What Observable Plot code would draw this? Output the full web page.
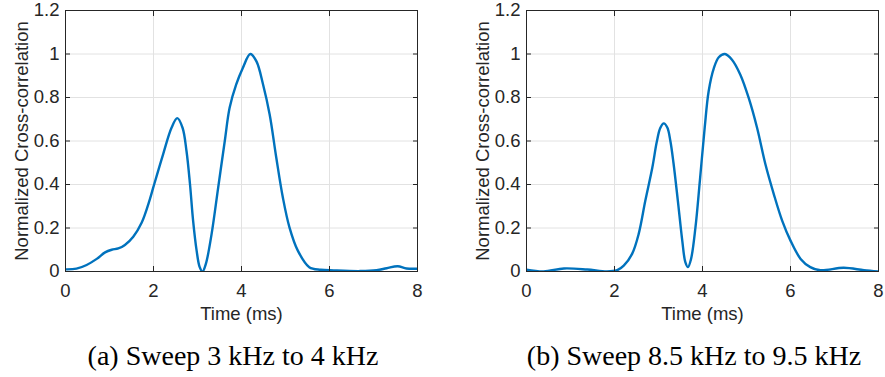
<!DOCTYPE html>
<html>
<head>
<meta charset="utf-8">
<script src="https://cdn.jsdelivr.net/npm/d3@7"></script>
<script src="https://cdn.jsdelivr.net/npm/@observablehq/plot@0.6"></script>
<style>
  html, body { margin: 0; padding: 0; background: #fff; }
  #wrap { position: relative; width: 885px; height: 377px; overflow: hidden; }
  .panel { position: absolute; top: 0; }
  .cap { position: absolute; top: 340px; width: 442px; text-align: center;
         font-family: "Liberation Serif", "Times New Roman", serif; font-size: 28px;
         line-height: 32px; color: #000; white-space: nowrap; }
</style>
</head>
<body>
<div id="wrap"></div>
<script>
// ---- data ----
const xTicks = [0, 2, 4, 6, 8];
const yTicks = [0, 0.2, 0.4, 0.6, 0.8, 1, 1.2];
const xLabel = "Time (ms)";
const yLabel = "Normalized Cross-correlation";
const captions = ["(a) Sweep 3 kHz to 4 kHz", "(b) Sweep 8.5 kHz to 9.5 kHz"];

const leftT = [0, 0.25, 0.48, 0.71, 0.9, 1.05, 1.2, 1.35, 1.54, 1.73, 1.92, 2.0, 2.22, 2.41, 2.54, 2.66, 2.75, 2.83, 2.9, 2.98, 3.05, 3.115, 3.19, 3.32, 3.47, 3.62, 3.73, 3.88, 4.03, 4.2, 4.34, 4.49, 4.64, 4.79, 4.94, 5.09, 5.28, 5.54, 5.8, 6.1, 6.7, 7.07, 7.3, 7.55, 7.75, 8];
const leftV = [0.01, 0.013, 0.03, 0.058, 0.088, 0.1, 0.106, 0.122, 0.16, 0.224, 0.334, 0.39, 0.54, 0.661, 0.705, 0.661, 0.554, 0.40, 0.234, 0.096, 0.02, 0.0, 0.035, 0.172, 0.386, 0.6, 0.753, 0.86, 0.936, 1.0, 0.966, 0.86, 0.722, 0.524, 0.34, 0.203, 0.096, 0.02, 0.008, 0.005, 0.002, 0.006, 0.015, 0.024, 0.014, 0.013];

const rightT = [0, 0.39, 0.85, 1.38, 1.83, 2.06, 2.21, 2.4, 2.55, 2.7, 2.86, 2.96, 3.04, 3.12, 3.2, 3.27, 3.34, 3.44, 3.54, 3.61, 3.67, 3.74, 3.84, 3.94, 4.05, 4.14, 4.26, 4.37, 4.51, 4.67, 4.86, 5.05, 5.24, 5.43, 5.62, 5.81, 6.0, 6.23, 6.45, 6.68, 7.21, 7.67, 8];
const rightV = [0.008, 0.0, 0.014, 0.009, 0.0, 0.006, 0.027, 0.081, 0.173, 0.325, 0.478, 0.595, 0.66, 0.681, 0.662, 0.6, 0.5, 0.325, 0.142, 0.043, 0.02, 0.058, 0.203, 0.417, 0.661, 0.829, 0.936, 0.985, 1.0, 0.974, 0.905, 0.798, 0.661, 0.493, 0.356, 0.234, 0.142, 0.058, 0.02, 0.006, 0.017, 0.006, 0.0];

const series = [
  {t: leftT, v: leftV, left: 0, width: 442, marginLeft: 65, marginRight: 25, capLeft: 12},
  {t: rightT, v: rightV, left: 442, width: 443, marginLeft: 84, marginRight: 7, capLeft: 473}
];

const fmtY = d => String(+d.toFixed(1));
const axisColor = "#262626";
const gridColor = "#e2e2e2";
const lineColor = "#0072BD";

const wrap = document.getElementById("wrap");

series.forEach((s, i) => {
  const data = s.t.map((t, j) => ({t, v: s.v[j]}));
  const chart = Plot.plot({
    width: s.width,
    height: 330,
    marginLeft: s.marginLeft,
    marginRight: s.marginRight,
    marginTop: 10,
    marginBottom: 59,
    style: {fontFamily: "'Liberation Sans', Arial, Helvetica, sans-serif", fontSize: "17px", color: axisColor, background: "transparent"},
    x: {domain: [0, 8]},
    y: {domain: [0, 1.2]},
    marks: [
      Plot.gridX(xTicks, {stroke: gridColor, strokeOpacity: 1}),
      Plot.gridY(yTicks, {stroke: gridColor, strokeOpacity: 1}),
      Plot.line(data, {x: "t", y: "v", stroke: lineColor, strokeWidth: 2.4, curve: "catmull-rom", clip: true}),
      Plot.frame({stroke: axisColor, strokeWidth: 1}),
      Plot.axisX({ticks: xTicks, tickSize: -5, tickPadding: 17, tickFormat: d => String(d),
                  label: xLabel, labelAnchor: "center", labelOffset: 48, labelArrow: "none", fontSize: 18.5}),
      Plot.axisX({anchor: "top", ticks: xTicks, tickSize: -5, tickFormat: () => "", label: null}),
      Plot.axisY({ticks: yTicks, tickSize: -5, tickPadding: 11, tickFormat: fmtY,
                  label: yLabel, labelAnchor: "center", labelOffset: 51, labelArrow: "none", fontSize: 18.5}),
      Plot.axisY({anchor: "right", ticks: yTicks, tickSize: -5, tickFormat: () => "", label: null})
    ]
  });
  chart.classList.add("panel");
  chart.style.left = s.left + "px";
  wrap.appendChild(chart);

  const cap = document.createElement("div");
  cap.className = "cap";
  cap.style.left = s.capLeft + "px";
  cap.textContent = captions[i];
  wrap.appendChild(cap);
});
</script>
</body>
</html>
